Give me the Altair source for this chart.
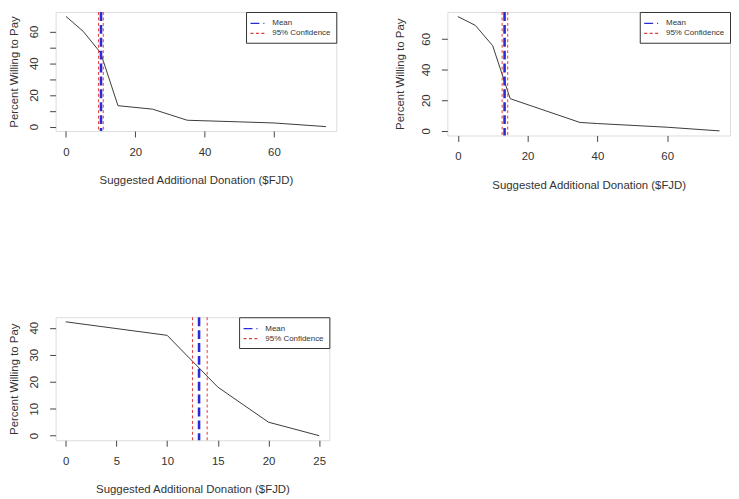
import altair as alt
import pandas as pd

# ---------------- data ----------------
legend_labels = ["Mean", "95% Confidence"]
x_title = "Suggested Additional Donation ($FJD)"
y_title = "Percent Willing to Pay"

# panel 1 (top-left)
p1_x = [0, 5, 10, 15, 25, 35, 50, 60, 75]
p1_y = [69.5, 60.0, 46.5, 13.2, 11.0, 4.0, 3.0, 2.3, 0.0]
p1_mean = 10.1
p1_ci = [9.4, 10.75]
p1_xticks = [0, 20, 40, 60]
p1_xlabels = [0, 20, 40, 60]
p1_yticks = [0, 10, 20, 30, 40, 50, 60]
p1_ylabels = [0, 20, 40, 60]

# panel 2 (top-right)
p2_x = [0, 5, 10, 15, 35, 40, 60, 75]
p2_y = [74.5, 68.8, 55.5, 21.0, 5.5, 4.8, 2.4, 0.0]
p2_mean = 13.4
p2_ci = [12.7, 14.3]
p2_xticks = [0, 20, 40, 60]
p2_xlabels = [0, 20, 40, 60]
p2_yticks = [0, 20, 40, 60]
p2_ylabels = [0, 20, 40, 60]

# panel 3 (bottom-left)
p3_x = [0, 10, 15, 20, 25]
p3_y = [42.2, 37.2, 18.0, 5.0, 0.0]
p3_mean = 13.15
p3_ci = [12.5, 13.95]
p3_xticks = [0, 5, 10, 15, 20, 25]
p3_xlabels = [0, 5, 10, 15, 20, 25]
p3_yticks = [0, 10, 20, 30, 40]
p3_ylabels = [0, 10, 20, 30, 40]

FONT = "Liberation Sans, Arial, sans-serif"
TXT = "#333333"
LINE = "#444444"
BLUE = "#2b2bd6"
RED = "#e03c3c"


def r_extent(vals):
    lo, hi = min(vals), max(vals)
    pad = (hi - lo) * 0.04
    return [lo - pad, hi + pad]


def make_panel(xs, ys, mean, ci, xticks, xlabels, yticks, ylabels, w, h, ytx):
    line_df = pd.DataFrame({"x": xs, "y": ys})
    ci_df = pd.DataFrame({"x": ci, "s": [legend_labels[1]] * len(ci)})
    mean_df = pd.DataFrame({"x": [mean], "s": [legend_labels[0]]})

    xsc = alt.Scale(domain=r_extent(xs), nice=False, zero=False)
    ysc = alt.Scale(domain=r_extent(ys), nice=False, zero=False)

    xax = alt.Axis(
        values=xticks,
        labelExpr="indexof(%s, datum.value) >= 0 ? datum.label : ''" % str(xlabels),
        grid=False, domain=False, ticks=True, tickSize=6, tickColor=LINE,
        labelFont=FONT, labelFontSize=11.5, labelColor=TXT,
        labelBaseline="middle", labelPadding=15.5, labelFlush=False,
        title=x_title, titleFont=FONT, titleFontSize=11.5, titleFontWeight="normal",
        titleColor=TXT, titleX=w / 2, titleY=50, titleBaseline="middle",
        titleAlign="center",
    )
    yax = alt.Axis(
        values=yticks,
        labelExpr="indexof(%s, datum.value) >= 0 ? datum.label : ''" % str(ylabels),
        grid=False, domain=False, ticks=True, tickSize=6, tickColor=LINE,
        labelFont=FONT, labelFontSize=11.5, labelColor=TXT,
        labelAngle=270, labelAlign="center", labelBaseline="middle",
        labelPadding=15, labelFlush=False,
        title=y_title, titleFont=FONT, titleFontSize=11.5, titleFontWeight="normal",
        titleColor=TXT, titleX=ytx, titleY=h / 2, titleAngle=270,
        titleBaseline="middle", titleAlign="center",
    )

    leg = alt.Legend(
        title=None, orient="top-right", offset=0,
        fillColor="white", strokeColor="#333333", padding=5.5,
        labelFont=FONT, labelFontSize=8, labelColor=TXT, labelOffset=9,
        symbolType="M-1.4,0H1.4", symbolSize=100, symbolStrokeWidth=1.3,
        rowPadding=0, cornerRadius=0, labelLimit=200,
    )
    color = alt.Color("s:N", scale=alt.Scale(domain=legend_labels, range=[BLUE, RED]), legend=leg)
    dash = alt.StrokeDash("s:N", scale=alt.Scale(domain=legend_labels, range=[[9, 4], [3, 2.5]]), legend=leg)

    curve = alt.Chart(line_df).mark_line(color="#3a3a3a", strokeWidth=1).encode(
        x=alt.X("x:Q", scale=xsc, axis=xax),
        y=alt.Y("y:Q", scale=ysc, axis=yax),
    )
    ci_rule = alt.Chart(ci_df).mark_rule(strokeWidth=1).encode(
        x=alt.X("x:Q", scale=xsc, axis=xax), color=color, strokeDash=dash
    )
    mean_rule = alt.Chart(mean_df).mark_rule(strokeWidth=2.6).encode(
        x=alt.X("x:Q", scale=xsc, axis=xax), color=color, strokeDash=dash
    )
    return alt.layer(curve, ci_rule, mean_rule).properties(width=w, height=h)


p1 = make_panel(p1_x, p1_y, p1_mean, p1_ci, p1_xticks, p1_xlabels, p1_yticks, p1_ylabels, 283, 120, -41)
p2 = make_panel(p2_x, p2_y, p2_mean, p2_ci, p2_xticks, p2_xlabels, p2_yticks, p2_ylabels, 285, 124.5, -47)
p3 = make_panel(p3_x, p3_y, p3_mean, p3_ci, p3_xticks, p3_xlabels, p3_yticks, p3_ylabels, 276, 124, -41)

chart = alt.concat(
    p1, p2, p3, columns=2,
    spacing={"row": 182.8, "column": 112},
    bounds="flush", align="each",
    padding={"left": 0, "top": 0, "right": 0, "bottom": 0},
).resolve_scale(
    x="independent", y="independent", color="independent", strokeDash="independent"
).resolve_legend(
    color="independent", strokeDash="independent"
).configure_view(
    stroke=LINE, strokeWidth=1
).configure(background="white")

chart.save("out.html", embed_options={"renderer": "svg", "actions": False})
